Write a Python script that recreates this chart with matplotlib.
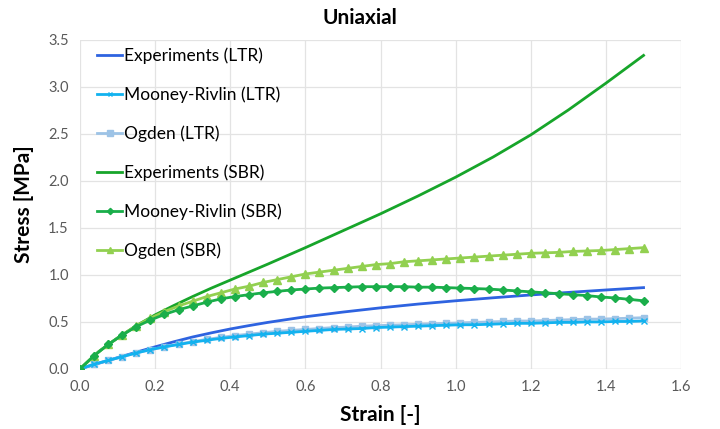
import numpy as np
import matplotlib
matplotlib.use("Agg")
import matplotlib.pyplot as plt

plt.rcParams['font.family'] = ['Lato', 'DejaVu Sans']

# Experimental curves (strain, stress in MPa)
strain_exp = [0.0, 0.05, 0.1, 0.15, 0.2, 0.25, 0.3, 0.35, 0.4, 0.45, 0.5, 0.6,
              0.7, 0.8, 0.9, 1.0, 1.1, 1.2, 1.3, 1.4, 1.5]
exp_ltr = [0.0, 0.06, 0.12, 0.178, 0.235, 0.289, 0.34, 0.384, 0.425, 0.461, 0.495,
           0.555, 0.605, 0.65, 0.69, 0.725, 0.757, 0.787, 0.814, 0.84, 0.865]
exp_sbr = [0.0, 0.185, 0.33, 0.46, 0.575, 0.675, 0.77, 0.86, 0.945, 1.03, 1.115,
           1.29, 1.47, 1.65, 1.84, 2.04, 2.255, 2.49, 2.755, 3.04, 3.335]

# Fitted model curves, sampled every 0.0375 strain from 0 to 1.5
strain_fit = np.linspace(0.0, 1.5, 41)
mr_ltr = [0.0, 0.05, 0.09, 0.13, 0.17, 0.205, 0.235, 0.26, 0.285, 0.305, 0.325,
          0.34, 0.355, 0.37, 0.38, 0.39, 0.40, 0.41, 0.42, 0.425, 0.43, 0.44,
          0.445, 0.45, 0.455, 0.46, 0.465, 0.47, 0.47, 0.475, 0.48, 0.485,
          0.485, 0.49, 0.495, 0.495, 0.50, 0.50, 0.505, 0.505, 0.51]
ogden_ltr = [0.0, 0.05, 0.09, 0.13, 0.17, 0.205, 0.235, 0.265, 0.29, 0.315, 0.335,
             0.355, 0.37, 0.385, 0.40, 0.41, 0.42, 0.43, 0.44, 0.445, 0.455,
             0.46, 0.465, 0.47, 0.475, 0.48, 0.485, 0.49, 0.495, 0.50, 0.505,
             0.51, 0.51, 0.515, 0.52, 0.525, 0.53, 0.53, 0.535, 0.54, 0.545]
mr_sbr = [0.0, 0.14, 0.26, 0.36, 0.45, 0.52, 0.58, 0.63, 0.67, 0.71, 0.745,
          0.77, 0.79, 0.81, 0.825, 0.84, 0.85, 0.86, 0.865, 0.87, 0.875, 0.875,
          0.875, 0.875, 0.87, 0.87, 0.865, 0.86, 0.855, 0.85, 0.84, 0.83,
          0.82, 0.81, 0.80, 0.79, 0.78, 0.765, 0.755, 0.74, 0.725]
ogden_sbr = [0.0, 0.14, 0.26, 0.36, 0.46, 0.54, 0.61, 0.67, 0.72, 0.77, 0.81,
             0.85, 0.88, 0.92, 0.95, 0.98, 1.01, 1.03, 1.05, 1.07, 1.09, 1.11,
             1.12, 1.14, 1.15, 1.16, 1.17, 1.18, 1.19, 1.20, 1.21, 1.22, 1.23,
             1.235, 1.24, 1.25, 1.255, 1.26, 1.27, 1.28, 1.29]

x_ticks = [0.0, 0.2, 0.4, 0.6, 0.8, 1.0, 1.2, 1.4, 1.6]
y_ticks = [0.0, 0.5, 1.0, 1.5, 2.0, 2.5, 3.0, 3.5]

fig = plt.figure(figsize=(7.2, 4.29), dpi=100)
ax = fig.add_axes([0.111, 0.140, 0.835, 0.767])

lw = 2.0
ax.plot(strain_exp, exp_ltr, color='#2e63e0', lw=lw, label='Experiments (LTR)', zorder=3)
ax.plot(strain_fit, mr_ltr, color='#12b2ef', lw=lw, marker='x', ms=4, mew=1.0,
        label='Mooney-Rivlin (LTR)', zorder=4)
ax.plot(strain_fit, ogden_ltr, color='#9dc3e6', lw=lw, marker='s', ms=5,
        label='Ogden (LTR)', zorder=3)
ax.plot(strain_exp, exp_sbr, color='#17a52a', lw=lw, label='Experiments (SBR)', zorder=3)
ax.plot(strain_fit, mr_sbr, color='#1aae4a', lw=lw, marker='D', ms=4,
        label='Mooney-Rivlin (SBR)', zorder=4)
ax.plot(strain_fit, ogden_sbr, color='#92d050', lw=lw, marker='^', ms=6,
        label='Ogden (SBR)', zorder=3)

ax.set_xlim(0, 1.6)
ax.set_ylim(0, 3.5)
ax.set_xticks(x_ticks)
ax.set_yticks(y_ticks)
ax.set_xticklabels([f'{v:.1f}' for v in x_ticks])
ax.set_yticklabels([f'{v:.1f}' for v in y_ticks])
ax.tick_params(length=0, labelsize=10.5, labelcolor='#595959', pad=8)
ax.grid(True, color='#e3e3e3', lw=0.9)
ax.set_axisbelow(True)
for sp in ax.spines.values():
    sp.set_visible(False)
ax.axhline(0, color='#d9d9d9', lw=1.0, zorder=1)

ax.set_xlabel('Strain [-]', fontsize=15, fontweight='bold', labelpad=8)
ax.set_ylabel('Stress [MPa]', fontsize=15, fontweight='bold', labelpad=10)
fig.text(0.5, 0.958, 'Uniaxial', ha='center', va='center', fontsize=15, fontweight='bold')

ax.legend(loc='upper left', frameon=False, fontsize=12.5, handlelength=1.45,
          handletextpad=0.12, labelspacing=1.29, borderaxespad=0.0,
          bbox_to_anchor=(0.017, 0.998), markerscale=0.8)

fig.savefig('out.png', dpi=100)
